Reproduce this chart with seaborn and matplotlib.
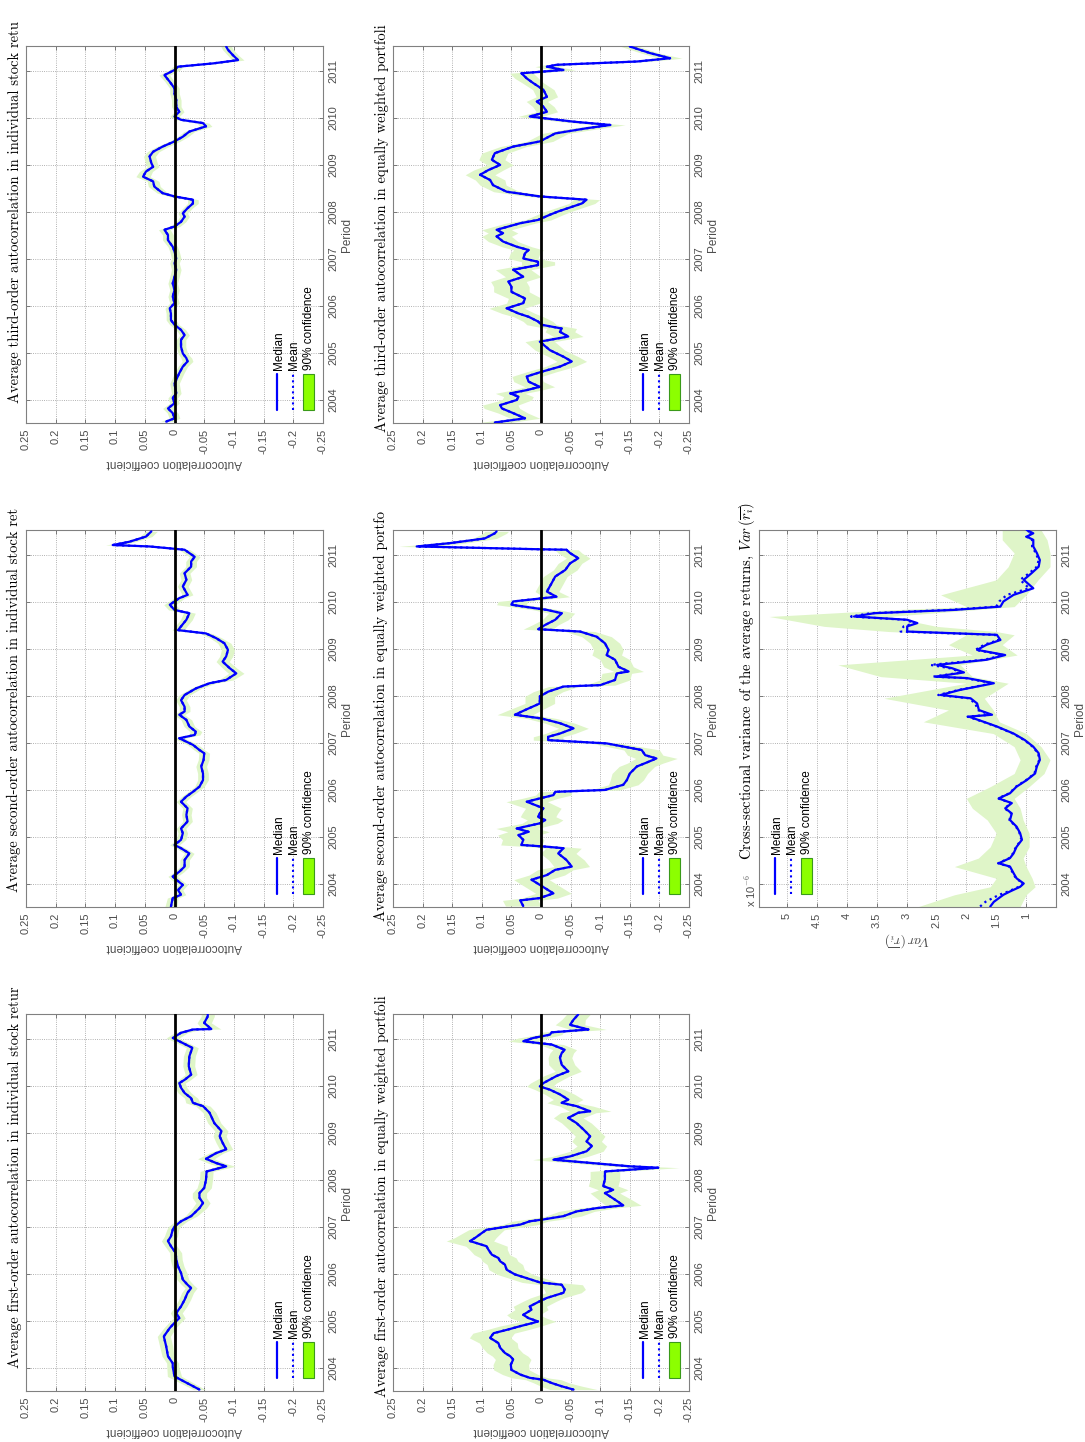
import numpy as np
import matplotlib
matplotlib.use("Agg")
import matplotlib.pyplot as plt
import matplotlib.patches as patches
import seaborn as sns

# Output size (portrait page, chart is rotated 90 degrees)
W, H = 1085, 1442

YEARS = [2004, 2005, 2006, 2007, 2008, 2009, 2010, 2011]
T_MIN, T_MAX = 2003.51, 2011.53

AC_TICKS = [0.25, 0.2, 0.15, 0.1, 0.05, 0, -0.05, -0.1, -0.15, -0.2, -0.25]
AC_LABELS = ["0.25", "0.2", "0.15", "0.1", "0.05", "0", "-0.05", "-0.1", "-0.15", "-0.2", "-0.25"]
VAR_TICKS = [5, 4.5, 4, 3.5, 3, 2.5, 2, 1.5, 1]
VAR_LABELS = ["5", "4.5", "4", "3.5", "3", "2.5", "2", "1.5", "1"]

# --- first-order, individual stocks
t_first_ind = [2003.54, 2003.82, 2004.03, 2004.10, 2004.25, 2004.46, 2004.67, 2004.85, 2004.96, 2005.06,
               2005.17, 2005.31, 2005.45, 2005.60, 2005.70, 2005.77, 2005.88, 2006.02, 2006.16, 2006.30,
               2006.45, 2006.59, 2006.70, 2006.80, 2006.94, 2007.01, 2007.12, 2007.23, 2007.40, 2007.51,
               2007.62, 2007.72, 2007.83, 2008.00, 2008.18, 2008.29, 2008.36, 2008.45, 2008.57, 2008.65,
               2008.79, 2008.93, 2009.04, 2009.21, 2009.43, 2009.57, 2009.64, 2009.74, 2009.85, 2009.96,
               2010.06, 2010.13, 2010.24, 2010.42, 2010.63, 2010.81, 2010.95, 2011.02, 2011.13, 2011.20,
               2011.21, 2011.34, 2011.48, 2011.53]
med_first_ind = [-0.042, 0.0, 0.003, 0.003, 0.011, 0.014, 0.018, 0.008, 0.0, -0.008,
                 -0.003, -0.011, -0.017, -0.022, -0.028, -0.022, -0.014, -0.011, -0.006, -0.003,
                 -0.002, 0.006, 0.011, 0.006, 0.003, 0.0, -0.011, -0.028, -0.042, -0.048,
                 -0.042, -0.042, -0.05, -0.053, -0.054, -0.087, -0.07, -0.053, -0.07, -0.087,
                 -0.081, -0.076, -0.079, -0.067, -0.059, -0.048, -0.031, -0.028, -0.017, -0.011,
                 -0.008, -0.017, -0.028, -0.024, -0.025, -0.03, -0.008, 0.003, -0.011, -0.031,
                 -0.062, -0.05, -0.056, -0.056]
spr_first_ind = [0.01, 0.012, 0.01, 0.01, 0.01, 0.011, 0.011, 0.01, 0.01, 0.01,
                 0.01, 0.01, 0.01, 0.01, 0.01, 0.01, 0.01, 0.01, 0.01, 0.01,
                 0.01, 0.01, 0.011, 0.011, 0.01, 0.01, 0.01, 0.01, 0.012, 0.012,
                 0.012, 0.012, 0.012, 0.011, 0.011, 0.015, 0.014, 0.014, 0.012, 0.011,
                 0.011, 0.011, 0.011, 0.011, 0.011, 0.012, 0.012, 0.011, 0.011, 0.01,
                 0.01, 0.01, 0.01, 0.01, 0.01, 0.01, 0.01, 0.011, 0.011, 0.012,
                 0.016, 0.012, 0.011, 0.011]

# --- first-order, equally weighted portfolio
t_first_ew = [2003.54, 2003.61, 2003.68, 2003.75, 2003.79, 2003.86, 2003.96, 2004.07, 2004.18, 2004.25,
              2004.32, 2004.43, 2004.53, 2004.64, 2004.74, 2004.82, 2004.89, 2004.96, 2004.99, 2005.06,
              2005.13, 2005.24, 2005.31, 2005.42, 2005.49, 2005.60, 2005.67, 2005.77, 2005.82, 2005.91,
              2005.99, 2006.09, 2006.20, 2006.27, 2006.34, 2006.41, 2006.52, 2006.59, 2006.70, 2006.77,
              2006.87, 2006.94, 2007.05, 2007.12, 2007.16, 2007.23, 2007.33, 2007.40, 2007.46, 2007.58,
              2007.72, 2007.79, 2007.87, 2008.01, 2008.18, 2008.26, 2008.29, 2008.43, 2008.50, 2008.61,
              2008.72, 2008.82, 2008.93, 2009.07, 2009.21, 2009.32, 2009.43, 2009.46, 2009.57, 2009.64,
              2009.71, 2009.82, 2009.92, 2009.99, 2010.06, 2010.21, 2010.31, 2010.45, 2010.60, 2010.70,
              2010.77, 2010.88, 2010.95, 2011.02, 2011.09, 2011.14, 2011.20, 2011.30, 2011.41, 2011.52]
med_first_ew = [-0.055, -0.035, -0.018, -0.004, 0.019, 0.035, 0.05, 0.051, 0.047, 0.052,
                0.061, 0.069, 0.072, 0.086, 0.08, 0.055, 0.035, 0.013, 0.005, 0.021,
                0.03, 0.016, 0.019, 0.002, -0.01, -0.038, -0.04, -0.035, 0.002, 0.024,
                0.044, 0.058, 0.061, 0.069, 0.072, 0.083, 0.089, 0.092, 0.12, 0.111,
                0.1, 0.092, 0.035, 0.019, -0.004, -0.038, -0.06, -0.094, -0.139, -0.125,
                -0.108, -0.122, -0.105, -0.108, -0.108, -0.198, -0.15, -0.021, -0.049, -0.077,
                -0.086, -0.077, -0.083, -0.072, -0.06, -0.046, -0.063, -0.083, -0.06, -0.035,
                -0.046, -0.032, -0.015, 0.002, -0.004, -0.026, -0.046, -0.035, -0.032, -0.035,
                -0.04, -0.018, 0.03, 0.013, -0.015, -0.018, -0.08, -0.049, -0.055, -0.063]
spr_first_ew = [0.04, 0.035, 0.03, 0.03, 0.03, 0.03, 0.03, 0.03, 0.03, 0.03,
                0.03, 0.03, 0.032, 0.035, 0.035, 0.035, 0.035, 0.03, 0.03, 0.03,
                0.028, 0.028, 0.028, 0.028, 0.028, 0.03, 0.035, 0.035, 0.03, 0.03,
                0.03, 0.03, 0.03, 0.03, 0.03, 0.03, 0.032, 0.035, 0.04, 0.035,
                0.032, 0.03, 0.03, 0.03, 0.03, 0.03, 0.03, 0.03, 0.03, 0.028,
                0.025, 0.025, 0.025, 0.025, 0.025, 0.035, 0.03, 0.035, 0.03, 0.028,
                0.025, 0.025, 0.025, 0.025, 0.025, 0.025, 0.03, 0.035, 0.028, 0.025,
                0.025, 0.025, 0.025, 0.022, 0.022, 0.022, 0.022, 0.022, 0.02, 0.02,
                0.02, 0.02, 0.025, 0.025, 0.02, 0.02, 0.03, 0.025, 0.02, 0.02]

# --- second-order, individual stocks
t_second_ind = [2003.52, 2003.70, 2003.77, 2003.87, 2003.98, 2004.09, 2004.16, 2004.26, 2004.37, 2004.51,
                2004.65, 2004.76, 2004.83, 2004.94, 2005.08, 2005.18, 2005.33, 2005.47, 2005.61, 2005.75,
                2005.86, 2005.96, 2006.07, 2006.21, 2006.35, 2006.50, 2006.64, 2006.78, 2006.85, 2006.96,
                2007.10, 2007.17, 2007.24, 2007.35, 2007.49, 2007.60, 2007.67, 2007.77, 2007.91, 2008.02,
                2008.16, 2008.27, 2008.34, 2008.48, 2008.59, 2008.73, 2008.84, 2008.98, 2009.12, 2009.23,
                2009.33, 2009.40, 2009.48, 2009.62, 2009.76, 2009.83, 2009.94, 2010.08, 2010.15, 2010.33,
                2010.47, 2010.61, 2010.75, 2010.86, 2010.96, 2011.11, 2011.18, 2011.21, 2011.28, 2011.39,
                2011.50]
med_second_ind = [0.006, 0.003, -0.011, -0.006, -0.014, -0.003, 0.003, -0.008, -0.017, -0.017,
                  -0.025, -0.011, 0.0, -0.011, -0.014, -0.011, -0.022, -0.02, -0.022, -0.011,
                  -0.02, -0.031, -0.042, -0.048, -0.048, -0.045, -0.049, -0.05, -0.042, -0.031,
                  -0.008, -0.034, -0.036, -0.025, -0.02, -0.008, -0.017, -0.017, -0.011, -0.017,
                  -0.036, -0.059, -0.087, -0.104, -0.093, -0.081, -0.087, -0.09, -0.084, -0.07,
                  -0.053, -0.006, -0.011, -0.02, -0.025, 0.0, 0.008, -0.008, -0.022, -0.014,
                  -0.02, -0.017, -0.028, -0.028, -0.034, -0.017, 0.042, 0.104, 0.076, 0.048,
                  0.039]
spr_second_ind = [0.01, 0.009, 0.008, 0.008, 0.008, 0.008, 0.008, 0.008, 0.008, 0.008,
                  0.008, 0.008, 0.008, 0.008, 0.008, 0.008, 0.008, 0.008, 0.008, 0.008,
                  0.008, 0.008, 0.008, 0.009, 0.009, 0.009, 0.009, 0.009, 0.009, 0.009,
                  0.009, 0.009, 0.01, 0.009, 0.009, 0.009, 0.009, 0.009, 0.009, 0.009,
                  0.009, 0.01, 0.012, 0.013, 0.012, 0.011, 0.011, 0.011, 0.011, 0.01,
                  0.01, 0.01, 0.01, 0.01, 0.01, 0.01, 0.01, 0.009, 0.009, 0.009,
                  0.009, 0.009, 0.009, 0.009, 0.009, 0.009, 0.01, 0.012, 0.01, 0.01,
                  0.01]

# --- second-order, equally weighted portfolio
t_second_ew = [2003.53, 2003.65, 2003.70, 2003.80, 2003.91, 2004.09, 2004.19, 2004.30, 2004.37, 2004.51,
               2004.65, 2004.76, 2004.79, 2004.83, 2004.94, 2005.04, 2005.11, 2005.18, 2005.29, 2005.36,
               2005.43, 2005.50, 2005.61, 2005.75, 2005.82, 2005.89, 2005.96, 2006.00, 2006.11, 2006.21,
               2006.35, 2006.50, 2006.57, 2006.67, 2006.74, 2006.85, 2006.99, 2007.06, 2007.13, 2007.20,
               2007.31, 2007.42, 2007.52, 2007.60, 2007.70, 2007.84, 2007.99, 2008.09, 2008.20, 2008.23,
               2008.34, 2008.48, 2008.52, 2008.62, 2008.77, 2008.87, 2008.98, 2009.12, 2009.26, 2009.37,
               2009.42, 2009.51, 2009.62, 2009.76, 2009.83, 2009.94, 2010.01, 2010.11, 2010.22, 2010.40,
               2010.54, 2010.68, 2010.82, 2010.93, 2011.04, 2011.11, 2011.12, 2011.18, 2011.25, 2011.35,
               2011.46, 2011.50]
med_second_ew = [0.03, 0.035, 0.002, -0.021, -0.007, 0.016, -0.01, -0.024, -0.052, -0.043,
                 -0.029, -0.038, -0.012, 0.033, 0.03, 0.038, 0.021, 0.041, 0.002, -0.007,
                 0.005, 0.002, -0.004, 0.024, 0.002, -0.021, -0.024, -0.108, -0.139, -0.145,
                 -0.15, -0.162, -0.176, -0.195, -0.176, -0.17, -0.111, -0.012, -0.012, -0.032,
                 -0.055, -0.032, -0.001, 0.044, 0.027, 0.002, 0.002, -0.012, -0.038, -0.1,
                 -0.125, -0.128, -0.148, -0.131, -0.125, -0.111, -0.114, -0.108, -0.094, -0.066,
                 0.005, -0.007, -0.024, -0.035, -0.01, 0.05, 0.047, -0.026, -0.01, -0.018,
                 -0.024, -0.041, -0.049, -0.063, -0.049, -0.043, 0.002, 0.21, 0.154, 0.095,
                 0.078, 0.075]
spr_second_ew = [0.03, 0.03, 0.03, 0.03, 0.03, 0.03, 0.03, 0.03, 0.03, 0.03,
                 0.03, 0.03, 0.03, 0.035, 0.035, 0.035, 0.035, 0.035, 0.03, 0.03,
                 0.03, 0.03, 0.03, 0.035, 0.03, 0.03, 0.028, 0.025, 0.025, 0.028,
                 0.03, 0.03, 0.03, 0.035, 0.03, 0.03, 0.025, 0.025, 0.025, 0.025,
                 0.025, 0.025, 0.025, 0.03, 0.028, 0.025, 0.025, 0.025, 0.025, 0.025,
                 0.025, 0.025, 0.025, 0.025, 0.025, 0.025, 0.025, 0.025, 0.025, 0.025,
                 0.025, 0.022, 0.022, 0.022, 0.022, 0.025, 0.025, 0.022, 0.02, 0.02,
                 0.02, 0.02, 0.02, 0.02, 0.02, 0.02, 0.02, 0.03, 0.025, 0.02,
                 0.02, 0.02]

# --- third-order, individual stocks
t_third_ind = [2003.54, 2003.61, 2003.72, 2003.82, 2003.93, 2004.04, 2004.14, 2004.35, 2004.57, 2004.71,
               2004.82, 2004.89, 2004.99, 2005.13, 2005.28, 2005.38, 2005.49, 2005.60, 2005.70, 2005.84,
               2005.95, 2006.06, 2006.20, 2006.34, 2006.48, 2006.62, 2006.77, 2006.91, 2007.01, 2007.16,
               2007.26, 2007.40, 2007.51, 2007.62, 2007.69, 2007.79, 2007.90, 2007.97, 2008.08, 2008.18,
               2008.26, 2008.33, 2008.40, 2008.54, 2008.65, 2008.75, 2008.86, 2008.96, 2009.04, 2009.18,
               2009.28, 2009.39, 2009.50, 2009.60, 2009.71, 2009.82, 2009.89, 2009.96, 2010.03, 2010.13,
               2010.24, 2010.38, 2010.52, 2010.63, 2010.77, 2010.91, 2011.02, 2011.09, 2011.16, 2011.23,
               2011.34, 2011.45, 2011.52]
med_third_ind = [0.014, 0.0, 0.003, 0.011, 0.0, 0.003, -0.003, 0.0, -0.008, -0.014,
                 -0.022, -0.02, -0.014, -0.011, -0.011, -0.017, -0.011, 0.0, 0.006, 0.006,
                 0.008, 0.0, 0.003, 0.0, 0.003, 0.0, -0.003, 0.0, -0.003, 0.0,
                 0.003, 0.011, 0.011, 0.017, 0.0, -0.011, -0.017, -0.014, -0.022, -0.031,
                 -0.031, 0.0, 0.02, 0.034, 0.036, 0.053, 0.048, 0.036, 0.039, 0.042,
                 0.036, 0.02, 0.0, -0.014, -0.025, -0.053, -0.048, -0.011, 0.0, -0.008,
                 -0.003, -0.003, 0.0, 0.0, 0.008, 0.017, 0.0, -0.006, -0.065, -0.107,
                 -0.098, -0.09, -0.087]
spr_third_ind = [0.01, 0.009, 0.009, 0.009, 0.008, 0.008, 0.008, 0.008, 0.008, 0.008,
                 0.009, 0.009, 0.008, 0.008, 0.008, 0.008, 0.008, 0.008, 0.008, 0.008,
                 0.008, 0.008, 0.008, 0.008, 0.008, 0.008, 0.008, 0.008, 0.008, 0.008,
                 0.008, 0.009, 0.009, 0.01, 0.009, 0.008, 0.008, 0.008, 0.008, 0.009,
                 0.009, 0.009, 0.009, 0.01, 0.01, 0.012, 0.011, 0.01, 0.01, 0.01,
                 0.01, 0.01, 0.009, 0.009, 0.009, 0.01, 0.01, 0.009, 0.008, 0.008,
                 0.008, 0.008, 0.008, 0.008, 0.008, 0.009, 0.009, 0.009, 0.01, 0.01,
                 0.009, 0.009, 0.009]

# --- third-order, equally weighted portfolio
t_third_ew = [2003.52, 2003.61, 2003.72, 2003.82, 2003.89, 2004.00, 2004.07, 2004.14, 2004.21, 2004.28,
              2004.39, 2004.50, 2004.60, 2004.71, 2004.82, 2004.92, 2005.06, 2005.24, 2005.35, 2005.45,
              2005.52, 2005.60, 2005.67, 2005.77, 2005.84, 2005.95, 2006.06, 2006.16, 2006.30, 2006.41,
              2006.52, 2006.62, 2006.77, 2006.87, 2006.94, 2007.01, 2007.12, 2007.19, 2007.26, 2007.37,
              2007.48, 2007.55, 2007.62, 2007.76, 2007.83, 2007.94, 2008.01, 2008.18, 2008.26, 2008.33,
              2008.43, 2008.57, 2008.68, 2008.79, 2008.89, 2009.00, 2009.11, 2009.25, 2009.39, 2009.50,
              2009.67, 2009.78, 2009.85, 2009.92, 2010.03, 2010.13, 2010.24, 2010.35, 2010.45, 2010.60,
              2010.74, 2010.84, 2010.95, 2011.02, 2011.09, 2011.13, 2011.20, 2011.27, 2011.38, 2011.52]
med_third_ew = [0.078, 0.027, 0.047, 0.066, 0.069, 0.041, 0.038, 0.052, 0.024, 0.002,
                0.021, 0.024, -0.001, -0.032, -0.052, -0.038, -0.015, 0.002, -0.046, -0.032,
                -0.035, -0.001, 0.005, 0.021, 0.038, 0.058, 0.03, 0.027, 0.05, 0.05,
                0.055, 0.03, 0.047, 0.005, 0.005, 0.03, 0.027, 0.021, 0.041, 0.064,
                0.075, 0.064, 0.075, 0.035, 0.005, -0.015, -0.029, -0.069, -0.077, 0.002,
                0.058, 0.081, 0.086, 0.103, 0.089, 0.069, 0.083, 0.078, 0.047, 0.002,
                -0.024, -0.077, -0.117, -0.055, 0.019, -0.01, -0.004, 0.007, -0.01, -0.004,
                0.013, 0.024, 0.033, -0.038, -0.01, -0.026, -0.162, -0.218, -0.184, -0.15]
spr_third_ew = [0.025, 0.025, 0.025, 0.03, 0.03, 0.025, 0.025, 0.025, 0.025, 0.025,
                0.025, 0.025, 0.025, 0.025, 0.025, 0.025, 0.025, 0.025, 0.025, 0.025,
                0.025, 0.025, 0.025, 0.025, 0.028, 0.03, 0.028, 0.028, 0.03, 0.03,
                0.03, 0.03, 0.03, 0.028, 0.028, 0.025, 0.025, 0.025, 0.025, 0.025,
                0.025, 0.025, 0.025, 0.025, 0.022, 0.022, 0.022, 0.022, 0.022, 0.022,
                0.022, 0.022, 0.025, 0.025, 0.025, 0.022, 0.022, 0.022, 0.022, 0.022,
                0.022, 0.025, 0.025, 0.022, 0.02, 0.018, 0.018, 0.018, 0.018, 0.018,
                0.018, 0.02, 0.02, 0.02, 0.02, 0.02, 0.02, 0.02, 0.015, 0.015]

# --- cross-sectional variance (x 1e-6)
t_var = [2003.52, 2003.62, 2003.77, 2003.84, 2003.94, 2004.01, 2004.12, 2004.23, 2004.37, 2004.44,
         2004.55, 2004.65, 2004.79, 2004.94, 2005.08, 2005.22, 2005.36, 2005.50, 2005.61, 2005.72,
         2005.82, 2005.93, 2006.07, 2006.21, 2006.35, 2006.50, 2006.64, 2006.78, 2006.92, 2007.06,
         2007.20, 2007.35, 2007.45, 2007.56, 2007.60, 2007.70, 2007.84, 2007.95, 2008.02, 2008.13,
         2008.27, 2008.38, 2008.41, 2008.50, 2008.59, 2008.66, 2008.77, 2008.87, 2008.98, 2009.09,
         2009.19, 2009.30, 2009.37, 2009.48, 2009.55, 2009.62, 2009.69, 2009.76, 2009.83, 2009.90,
         2010.01, 2010.15, 2010.29, 2010.47, 2010.61, 2010.75, 2010.89, 2011.04, 2011.18, 2011.32,
         2011.39, 2011.46, 2011.53]
med_var = [1.6, 1.54, 1.38, 1.27, 1.1, 1.04, 1.16, 1.21, 1.27, 1.46,
           1.27, 1.21, 1.16, 1.07, 1.1, 1.16, 1.27, 1.24, 1.35, 1.24,
           1.46, 1.27, 1.16, 0.99, 0.85, 0.82, 0.77, 0.79, 0.88, 1.02,
           1.21, 1.49, 1.71, 1.96, 1.57, 1.79, 1.82, 1.93, 2.43, 2.1,
           1.54, 1.99, 2.52, 2.04, 2.24, 2.49, 1.66, 1.35, 1.82, 1.66,
           1.43, 1.49, 2.99, 2.99, 2.82, 2.99, 3.88, 3.54, 2.21, 1.43,
           1.38, 1.21, 0.88, 1.04, 0.91, 0.79, 0.77, 0.82, 0.88, 0.88,
           0.99, 0.88, 0.99]
mean_var = [1.77, 1.68, 1.45, 1.3, 1.12, 1.05, 1.17, 1.22, 1.28, 1.47,
            1.28, 1.22, 1.17, 1.08, 1.11, 1.17, 1.28, 1.25, 1.36, 1.25,
            1.47, 1.28, 1.17, 1.0, 0.86, 0.83, 0.78, 0.8, 0.89, 1.03,
            1.22, 1.5, 1.72, 1.98, 1.6, 1.81, 1.85, 1.96, 2.47, 2.12,
            1.56, 2.02, 2.56, 2.07, 2.28, 2.6, 1.7, 1.38, 1.85, 1.7,
            1.46, 1.52, 3.1, 3.05, 2.86, 3.03, 3.93, 3.6, 2.28, 1.5,
            1.45, 1.32, 0.95, 1.1, 0.95, 0.82, 0.79, 0.84, 0.9, 0.9,
            1.0, 0.9, 1.0]
t_var_band = [2003.52, 2003.77, 2003.94, 2004.12, 2004.37, 2004.55, 2004.79, 2005.08, 2005.36, 2005.61,
              2005.82, 2006.07, 2006.35, 2006.64, 2006.92, 2007.20, 2007.45, 2007.70, 2007.95, 2008.27,
              2008.41, 2008.66, 2008.87, 2009.09, 2009.30, 2009.37, 2009.48, 2009.69, 2009.83, 2009.90,
              2010.15, 2010.47, 2010.75, 2011.04, 2011.32, 2011.53]
hi_var = [2.8, 2.2, 1.6, 1.5, 2.2, 1.8, 1.6, 1.5, 1.65, 1.9,
          2.0, 1.6, 1.2, 1.1, 1.2, 1.55, 2.72, 2.3, 3.38, 2.0,
          3.43, 4.15, 1.9, 2.3, 2.0, 3.3, 4.38, 5.3, 3.3, 2.0,
          2.43, 1.5, 1.3, 1.2, 1.4, 1.4]
lo_var = [1.1, 1.0, 0.85, 0.9, 1.0, 1.05, 0.95, 0.95, 1.05, 1.1,
          1.2, 0.95, 0.7, 0.6, 0.75, 1.0, 1.45, 1.55, 1.7, 1.3,
          1.9, 2.1, 1.15, 1.4, 1.2, 1.5, 2.5, 3.3, 1.9, 1.2,
          1.0, 0.8, 0.6, 0.6, 0.65, 0.75]

TITLES = {
    "first_ind": "Average first-order autocorrelation in individual stock retur",
    "first_ew": "Average first-order autocorrelation in equally weighted portfoli",
    "second_ind": "Average second-order autocorrelation in individual stock ret",
    "second_ew": "Average second-order autocorrelation in equally weighted portfo",
    "third_ind": "Average third-order autocorrelation in individual stock retu",
    "third_ew": "Average third-order autocorrelation in equally weighted portfoli",
    "var": r"Cross-sectional variance of the average returns, $Var\,(\overline{r_i})$",
}

BLUE = "#0000ff"
BAND = "#dff5c8"
PATCH = "#8cff00"
TICK_C = "0.3"

sns.set_style("white")
plt.rcParams["font.family"] = ["Liberation Sans", "DejaVu Sans"]
plt.rcParams["mathtext.fontset"] = "cm"


def fig_rect(x0, y0, x1, y1):
    # pixel box (image coords, y down) -> figure fraction
    return [x0 / W, 1 - y1 / H, (x1 - x0) / W, (y1 - y0) / H]


def style_axes(ax, xlim, xticks, xlabels, xlabel, xlabel_size=8.5):
    ax.set_xlim(*xlim)
    ax.set_ylim(T_MIN, T_MAX)
    ax.set_xticks(xticks)
    ax.set_xticklabels(xlabels, rotation=90)
    ax.yaxis.tick_right()
    ax.set_yticks(YEARS)
    ax.set_yticklabels([str(y) for y in YEARS], rotation=90, va="center")
    ax.yaxis.set_label_position("right")
    ax.tick_params(direction="in", length=3, width=0.6, color="0.4", labelcolor=TICK_C,
                   labelsize=8, left=True, right=True, top=True, bottom=True, pad=4)
    ax.grid(True, ls=":", lw=0.6, color="0.6")
    for sp in ax.spines.values():
        sp.set_color("0.5")
        sp.set_linewidth(0.8)
    ax.set_ylabel("Period", fontsize=8.5, color=TICK_C, rotation=90, labelpad=2)
    ax.set_xlabel(xlabel, fontsize=xlabel_size, color=TICK_C, rotation=180, labelpad=2)


def draw_legend(ax, xm, xmean, xbox):
    y0, y1 = 0.0345, 0.130
    ax.plot([xm, xm], [y0, y1], transform=ax.transAxes, color=BLUE, lw=1.6, clip_on=False)
    ax.plot([xmean, xmean], [y0, y1], transform=ax.transAxes, color=BLUE, lw=1.5, ls=":", clip_on=False)
    ax.add_patch(patches.Rectangle((xbox - 0.018, y0), 0.037, y1 - y0, transform=ax.transAxes,
                                   facecolor=PATCH, edgecolor="#3a9a1a", lw=0.8))
    for xx, s in [(xm + 0.006, "Median"), (xmean + 0.004, "Mean"), (xbox + 0.002, "90% confidence")]:
        ax.text(xx, 0.141, s, transform=ax.transAxes, rotation=90, ha="center", va="bottom",
                fontsize=8.5, color="black")


def title(x, y, s, size=10.5):
    fig.text(x / W, 1 - y / H, s, rotation=90, ha="center", va="bottom",
             family="cmr10", fontsize=size, color="black")


def autocorr_panel(box, t, med, spr, key, tpos):
    ax = fig.add_axes(fig_rect(*box))
    med_a = np.array(med)
    spr_a = np.array(spr)
    ax.fill_betweenx(t, med_a - spr_a, med_a + spr_a, color=BAND, lw=0, zorder=1)
    sns.lineplot(x=med, y=t, orient="y", sort=False, estimator=None, color=BLUE,
                 lw=1.6, ls=":", ax=ax, legend=False, zorder=2)
    sns.lineplot(x=med, y=t, orient="y", sort=False, estimator=None, color=BLUE,
                 lw=1.6, ax=ax, legend=False, zorder=3)
    ax.axvline(0, color="black", lw=2, zorder=4)
    style_axes(ax, (0.25, -0.25), AC_TICKS, AC_LABELS, "Autocorrelation coefficient")
    draw_legend(ax, 0.845, 0.899, 0.951)
    title(tpos[0], tpos[1], TITLES[key])
    return ax


fig = plt.figure(figsize=(W / 100, H / 100), dpi=100)

COL = [(26, 323), (393, 689), (759, 1056)]
ROW_FIRST = (1014, 1391)
ROW_SECOND = (530, 907)
ROW_THIRD = (46, 423)

autocorr_panel((COL[0][0], ROW_FIRST[0], COL[0][1], ROW_FIRST[1]),
               t_first_ind, med_first_ind, spr_first_ind, "first_ind", (15, 1368))
autocorr_panel((COL[1][0], ROW_FIRST[0], COL[1][1], ROW_FIRST[1]),
               t_first_ew, med_first_ew, spr_first_ew, "first_ew", (382, 1397))
autocorr_panel((COL[0][0], ROW_SECOND[0], COL[0][1], ROW_SECOND[1]),
               t_second_ind, med_second_ind, spr_second_ind, "second_ind", (14, 892))
autocorr_panel((COL[1][0], ROW_SECOND[0], COL[1][1], ROW_SECOND[1]),
               t_second_ew, med_second_ew, spr_second_ew, "second_ew", (381, 921))
autocorr_panel((COL[0][0], ROW_THIRD[0], COL[0][1], ROW_THIRD[1]),
               t_third_ind, med_third_ind, spr_third_ind, "third_ind", (15, 403))
autocorr_panel((COL[1][0], ROW_THIRD[0], COL[1][1], ROW_THIRD[1]),
               t_third_ew, med_third_ew, spr_third_ew, "third_ew", (382, 432))

# variance panel
axv = fig.add_axes(fig_rect(COL[2][0], ROW_SECOND[0], COL[2][1], ROW_SECOND[1]))
axv.fill_betweenx(t_var_band, lo_var, hi_var, color=BAND, lw=0, zorder=1)
sns.lineplot(x=mean_var, y=t_var, orient="y", sort=False, estimator=None, color=BLUE,
             lw=1.6, ls=":", ax=axv, legend=False, zorder=2)
sns.lineplot(x=med_var, y=t_var, orient="y", sort=False, estimator=None, color=BLUE,
             lw=1.6, ax=axv, legend=False, zorder=3)
style_axes(axv, (5.47, 0.5), VAR_TICKS, VAR_LABELS, r"$Var\,(\overline{r_i})$", xlabel_size=10)
draw_legend(axv, 0.054, 0.108, 0.16)
title(747, 860, TITLES["var"], size=10.6)
fig.text(751 / W, 1 - 907 / H, r"x 10$^{-6}$", rotation=90, ha="center", va="bottom",
         fontsize=8, color=TICK_C)

fig.savefig("out.png", dpi=100, facecolor="white")
